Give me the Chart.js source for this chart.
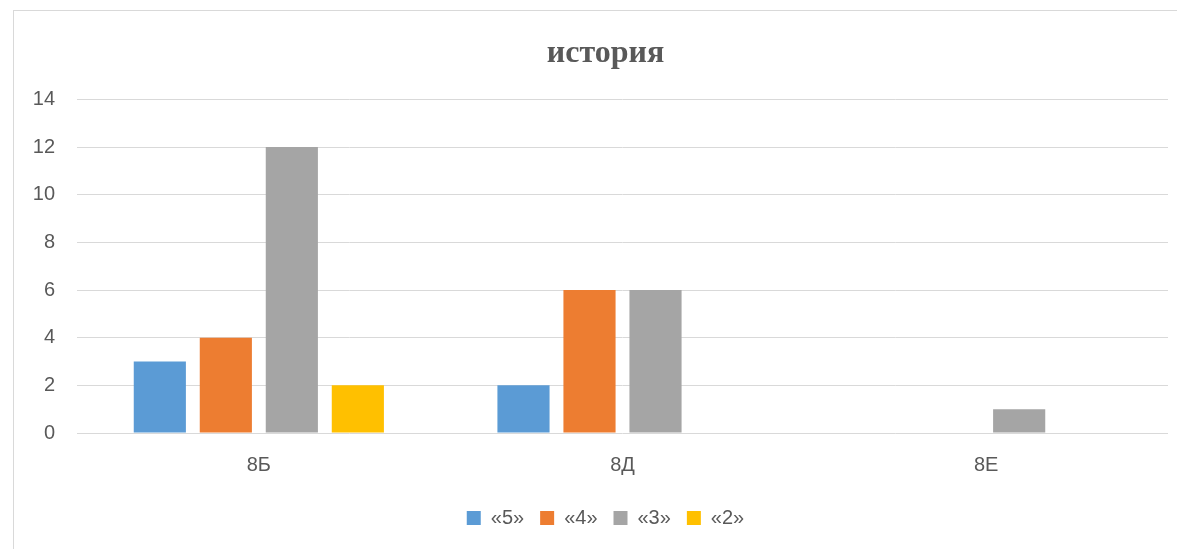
<!DOCTYPE html>
<html>
<head>
<meta charset="utf-8">
<script src="https://cdn.jsdelivr.net/npm/chart.js@4"></script>
<style>
  html, body { margin: 0; padding: 0; background: #fff; overflow: hidden; }
  #frame {
    position: absolute; left: 13px; top: 10px;
    width: 1200px; height: 560px;
    border-left: 1px solid #d9d9d9; border-top: 1px solid #d9d9d9;
  }
  #box { position: absolute; left: 0; top: 0; width: 1183px; height: 538px; }
</style>
</head>
<body>
<div id="frame"><div id="box"><canvas id="chart"></canvas></div></div>
<script>
// classes and grade counts
const classes = ["8Б", "8Д", "8Е"];
const grade5 = [3, 2, 0];
const grade4 = [4, 6, 0];
const grade3 = [12, 6, 1];
const grade2 = [2, 0, 0];
const seriesNames = ["«5»", "«4»", "«3»", "«2»"];
const colors = ["#5B9BD5", "#ED7D31", "#A5A5A5", "#FFC000"];

document.addEventListener("DOMContentLoaded", function () {
  const ctx = document.getElementById("chart").getContext("2d");
  const values = [grade5, grade4, grade3, grade2];

  new Chart(ctx, {
    type: "bar",
    data: {
      labels: classes,
      datasets: values.map((v, i) => ({
        label: seriesNames[i],
        data: v,
        backgroundColor: colors[i],
        borderWidth: 0,
        categoryPercentage: 0.726,
        barPercentage: 0.79,
      })),
    },
    options: {
      responsive: true,
      maintainAspectRatio: false,
      animation: false,
      layout: { padding: { left: 0, right: 0, top: 0, bottom: 11 } },
      plugins: {
        title: {
          display: true,
          text: "история",
          color: "#595959",
          font: { family: "Liberation Serif", size: 32, weight: "bold" },
          padding: { top: 24, bottom: 26 },
        },
        legend: {
          position: "bottom",
          labels: {
            color: "#595959",
            font: { family: "Liberation Sans", size: 20 },
            boxWidth: 14,
            boxHeight: 14,
            padding: 16,
          },
        },
        tooltip: { enabled: false },
      },
      scales: {
        x: {
          grid: { display: false },
          border: { display: false },
          ticks: {
            color: "#595959",
            font: { family: "Liberation Sans", size: 20 },
            padding: 12,
          },
          afterFit: (scale) => { scale.height = 59; },
        },
        y: {
          min: 0,
          max: 14,
          grid: { color: "#d9d9d9", lineWidth: 1, drawTicks: false },
          border: { display: false },
          ticks: {
            stepSize: 2,
            color: "#595959",
            font: { family: "Liberation Sans", size: 20 },
            padding: 22,
          },
          afterFit: (scale) => { scale.width = 63; },
        },
        // empty right-hand margin so the title and legend centre like the original frame
        spacer: {
          position: "right",
          display: true,
          grid: { display: false },
          border: { display: false },
          ticks: { display: false },
          afterFit: (scale) => { scale.width = 29; },
        },
      },
    },
  });
});
</script>
</body>
</html>
